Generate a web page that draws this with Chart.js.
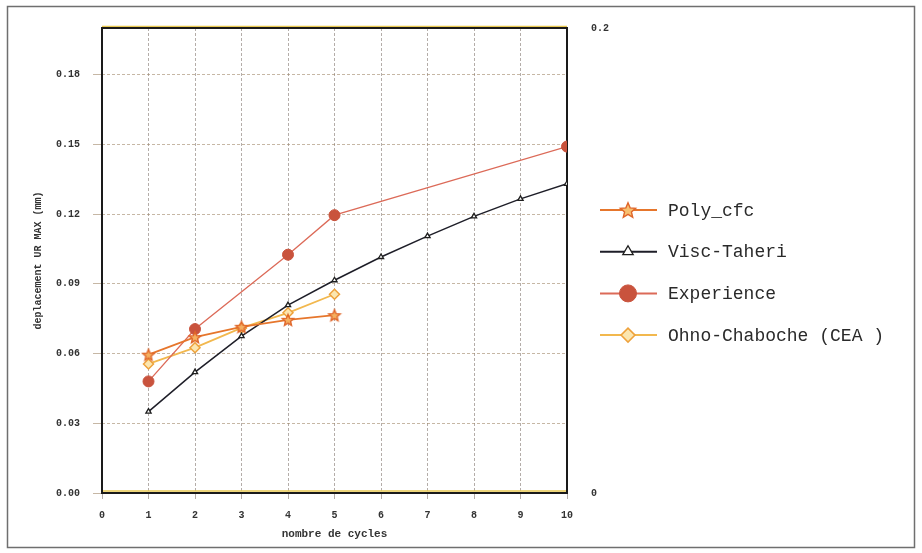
<!DOCTYPE html>
<html>
<head>
<meta charset="utf-8">
<script src="https://cdn.jsdelivr.net/npm/chart.js@4"></script>
<style>
  html, body { margin: 0; padding: 0; background: #fff; }
  #wrap { position: relative; width: 922px; height: 553px; }
</style>
</head>
<body>
<div id="wrap"><canvas id="chart" width="922" height="553"></canvas></div>
<script>
/* Data */
const polyCycles = [1, 2, 3, 4, 5];
const polyValues = [0.0595, 0.067, 0.0715, 0.0745, 0.0765];

const viscCycles = [1, 2, 3, 4, 5, 6, 7, 8, 9, 10];
const viscValues = [0.035, 0.052, 0.0675, 0.0808, 0.0915, 0.1015, 0.1105, 0.119, 0.1265, 0.133];

const expCycles = [1, 2, 4, 5, 10];
const expValues = [0.048, 0.0705, 0.1025, 0.1195, 0.149];

const ohnoCycles = [1, 2, 3, 4, 5];
const ohnoValues = [0.0555, 0.0625, 0.071, 0.0775, 0.0855];

const xTicks = [0, 1, 2, 3, 4, 5, 6, 7, 8, 9, 10];
const yTicks = [0, 0.03, 0.06, 0.09, 0.12, 0.15, 0.18];
const rightTicks = [0, 0.2];

const seriesNames = ["Poly_cfc", "Visc-Taheri", "Experience", "Ohno-Chaboche (CEA )"];

const pairs = (xs, ys) => xs.map((x, i) => ({ x: x, y: ys[i] }));

const MONO = "'Liberation Mono', 'DejaVu Sans Mono', monospace";

// five point star marker (Chart.js "star" is an asterisk)
function makeStar(r, fill, stroke) {
  const c = document.createElement("canvas");
  const s = Math.ceil(r * 2 + 4);
  c.width = s;
  c.height = s;
  const ctx = c.getContext("2d");
  const cx = s / 2, cy = s / 2 + r * 0.1;
  ctx.beginPath();
  for (let i = 0; i < 10; i++) {
    const rr = i % 2 === 0 ? r : r * 0.45;
    const a = -Math.PI / 2 + i * Math.PI / 5;
    const px = cx + rr * Math.cos(a), py = cy + rr * Math.sin(a);
    if (i === 0) ctx.moveTo(px, py); else ctx.lineTo(px, py);
  }
  ctx.closePath();
  ctx.fillStyle = fill;
  ctx.fill();
  ctx.strokeStyle = stroke;
  ctx.lineWidth = 1.4;
  ctx.stroke();
  return c;
}

// outer frame + heavy plot border
const framePlugin = {
  id: "frame",
  beforeDraw(chart) {
    const ctx = chart.ctx;
    ctx.save();
    ctx.strokeStyle = "#6f6f6f";
    ctx.lineWidth = 1.5;
    ctx.strokeRect(7.5, 6.5, 907, 541);
    ctx.restore();
  },
  beforeDatasetsDraw(chart) {
    const { ctx, chartArea: a } = chart;
    ctx.save();
    ctx.strokeStyle = "#e8c850";
    ctx.lineWidth = 1.5;
    ctx.beginPath();
    ctx.moveTo(a.left, a.top - 1.5); ctx.lineTo(a.right, a.top - 1.5);
    ctx.moveTo(a.left, a.bottom - 2); ctx.lineTo(a.right, a.bottom - 2);
    ctx.stroke();
    ctx.strokeStyle = "#1a1a1a";
    ctx.lineWidth = 2;
    ctx.strokeRect(a.left, a.top, a.right - a.left, a.bottom - a.top);
    ctx.restore();
  }
};

// legend on the right, line sample with the marker in the middle
const sideLegend = {
  id: "sideLegend",
  afterDraw(chart) {
    const ctx = chart.ctx;
    const x0 = 600, y0 = 210, gap = 41.7;
    chart.data.datasets.forEach((ds, i) => {
      const y = y0 + i * gap;
      ctx.save();
      ctx.strokeStyle = ds.borderColor;
      ctx.lineWidth = 2;
      ctx.beginPath();
      ctx.moveTo(x0, y);
      ctx.lineTo(x0 + 57, y);
      ctx.stroke();
      ctx.fillStyle = ds.pointBackgroundColor;
      ctx.strokeStyle = ds.pointBorderColor;
      ctx.lineWidth = ds.pointBorderWidth;
      Chart.helpers.drawPoint(ctx, {
        pointStyle: ds.legendStyle || ds.pointStyle,
        radius: ds.legendRadius,
        rotation: 0,
        borderWidth: ds.pointBorderWidth
      }, x0 + 28, y);
      ctx.fillStyle = "#2a2a2a";
      ctx.font = "18px " + MONO;
      ctx.textBaseline = "middle";
      ctx.fillText(ds.label, x0 + 68, y + 1);
      ctx.restore();
    });
  }
};

const tickFont = { family: MONO, size: 10, weight: "bold" };

new Chart(document.getElementById("chart"), {
  type: "line",
  data: {
    datasets: [
      {
        label: seriesNames[0],
        data: pairs(polyCycles, polyValues),
        borderColor: "#e6762c",
        borderWidth: 1.8,
        pointStyle: makeStar(6, "#f5b060", "#e0662a"),
        legendStyle: makeStar(8, "#f7c070", "#e0662a"),
        pointRadius: 6,
        legendRadius: 8,
        pointBackgroundColor: "#f3a24a",
        pointBorderColor: "#e0662a",
        pointBorderWidth: 1.5
      },
      {
        label: seriesNames[1],
        data: pairs(viscCycles, viscValues),
        borderColor: "#1e1e28",
        borderWidth: 1.5,
        pointStyle: "triangle",
        pointRadius: 3,
        legendRadius: 6,
        pointBackgroundColor: "#ffffff",
        pointBorderColor: "#1e1e1e",
        pointBorderWidth: 1.3
      },
      {
        label: seriesNames[2],
        data: pairs(expCycles, expValues),
        borderColor: "#dc6a58",
        borderWidth: 1.3,
        pointStyle: "circle",
        pointRadius: 5.5,
        legendRadius: 8.5,
        pointBackgroundColor: "#c9533d",
        pointBorderColor: "#c9533d",
        pointBorderWidth: 1
      },
      {
        label: seriesNames[3],
        data: pairs(ohnoCycles, ohnoValues),
        borderColor: "#f2b84e",
        borderWidth: 1.8,
        pointStyle: "rectRot",
        pointRadius: 5,
        legendRadius: 7,
        pointBackgroundColor: "#fbe6b0",
        pointBorderColor: "#eea23c",
        pointBorderWidth: 1.5
      }
    ]
  },
  options: {
    responsive: false,
    animation: false,
    layout: { padding: { left: 32, right: 311, top: 28, bottom: 12 } },
    plugins: {
      legend: { display: false },
      tooltip: { enabled: false }
    },
    scales: {
      x: {
        type: "linear",
        min: 0,
        max: 10,
        afterBuildTicks: (s) => { s.ticks = xTicks.map((v) => ({ value: v })); },
        afterFit: (s) => { s.height = 48; },
        ticks: { font: tickFont, color: "#333", padding: 10 },
        grid: { color: "rgba(130,118,112,0.6)", lineWidth: 1, tickLength: 6 },
        border: { display: false, dash: [3, 2] },
        title: {
          display: true,
          text: "nombre de cycles",
          font: { family: MONO, size: 11, weight: "bold" },
          color: "#333",
          padding: { top: 0, bottom: 0 }
        }
      },
      y: {
        min: 0,
        max: 0.2,
        afterBuildTicks: (s) => { s.ticks = yTicks.map((v) => ({ value: v })); },
        afterFit: (s) => { s.width = 70; },
        ticks: {
          font: tickFont,
          color: "#333",
          padding: 13,
          callback: (v) => v.toFixed(2)
        },
        grid: { color: "rgba(160,135,105,0.6)", lineWidth: 1, tickLength: 9 },
        border: { display: false, dash: [3, 2] },
        title: {
          display: true,
          text: "deplacement UR MAX (mm)",
          font: { family: MONO, size: 10, weight: "bold" },
          color: "#333",
          padding: { top: 0, bottom: 4 }
        }
      },
      y2: {
        position: "right",
        min: 0,
        max: 0.2,
        afterBuildTicks: (s) => { s.ticks = rightTicks.map((v) => ({ value: v })); },
        afterFit: (s) => { s.width = 44; },
        ticks: {
          font: { family: MONO, size: 10, weight: "bold" },
          color: "#333",
          padding: 16,
          callback: (v) => String(v)
        },
        grid: { display: false },
        border: { display: false }
      }
    }
  },
  plugins: [framePlugin, sideLegend]
});
</script>
</body>
</html>
